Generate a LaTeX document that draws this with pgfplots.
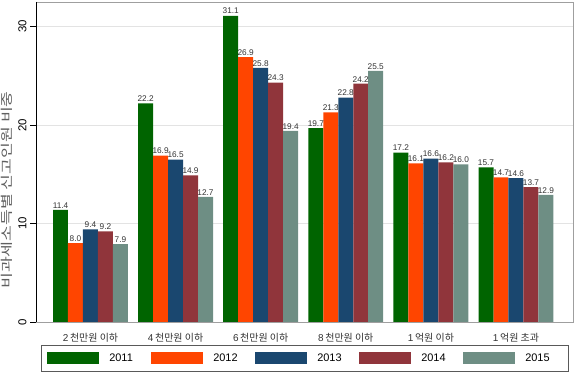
\documentclass[border=0pt]{standalone}
\usepackage{pgfplots}
\pgfplotsset{compat=1.18}
\usepackage{fontspec}
\setmainfont{Liberation Sans}
\newfontfamily\kr{Noto Sans CJK KR}

\definecolor{cA}{HTML}{006400}
\definecolor{cB}{HTML}{FF4500}
\definecolor{cC}{HTML}{1A476F}
\definecolor{cD}{HTML}{90353B}
\definecolor{cE}{HTML}{6E8E84}
\definecolor{txt}{HTML}{333333}

\begin{document}
\begin{tikzpicture}
\begin{axis}[
  at={(0,0)}, anchor=south west,
  scale only axis, width=537bp, height=320bp,
  xmin=-0.64, xmax=5.67, ymin=0, ymax=32.5,
  ybar, bar width=0.176,
  axis line style={draw=gray!75, line width=0.8pt},
  xtick={0,1,2,3,4,5},
  xticklabels={
    {2\,{\kr 천만원 이하}}, {4\,{\kr 천만원 이하}}, {6\,{\kr 천만원 이하}},
    {8\,{\kr 천만원 이하}}, {1\,{\kr 억원 이하}}, {1\,{\kr 억원 초과}}},
  xticklabel style={font=\fontsize{10}{11}\selectfont, text=txt, yshift=-2bp},
  x tick style={draw=none},
  ytick={0,10,20,30},
  yticklabel style={rotate=90, anchor=south, font=\fontsize{11.5}{12}\selectfont, text=black},
  /pgf/number format/assume math mode=true,
  y tick style={draw=black, line width=0.6pt},
  tick align=outside, major tick length=6bp,
  ymajorgrids, grid style={gray!22, line width=0.9pt},
  ylabel={\scalebox{1.38}[1]{\kr 비과세소득별 신고인원 비중}},
  ylabel style={font=\fontsize{12.5}{13}\selectfont, text=gray!75!black,
    at={(axis description cs:-0.054,0.4125)}, anchor=center},
  nodes near coords={\pgfmathprintnumber[fixed,fixed zerofill,precision=1]{\pgfplotspointmeta}},
  every node near coord/.append style={font=\fontsize{8.3}{9}\selectfont, text=txt, inner sep=1.5bp},
  legend columns=5,
  legend image code/.code={\fill[#1] (0bp,-6bp) rectangle (52bp,6bp); \path (62bp,0bp);},
  legend style={
    at={(0.0093,-0.0719)}, anchor=north west,
    draw=gray!70!black, line width=0.6pt,
    inner xsep=6bp, inner ysep=7bp,
    font=\fontsize{11}{12}\selectfont,
    column sep=0pt,
    nodes={inner sep=0pt, anchor=west},
  },
]
\addplot[fill=cA, draw=none, bar shift=-0.352] coordinates {(0,11.4) (1,22.2) (2,31.1) (3,19.7) (4,17.2) (5,15.7)};
\addplot[fill=cB, draw=none, bar shift=-0.176] coordinates {(0,8.0) (1,16.9) (2,26.9) (3,21.3) (4,16.1) (5,14.7)};
\addplot[fill=cC, draw=none, bar shift=0] coordinates {(0,9.4) (1,16.5) (2,25.8) (3,22.8) (4,16.6) (5,14.6)};
\addplot[fill=cD, draw=none, bar shift=0.176] coordinates {(0,9.2) (1,14.9) (2,24.3) (3,24.2) (4,16.2) (5,13.7)};
\addplot[fill=cE, draw=none, bar shift=0.352] coordinates {(0,7.9) (1,12.7) (2,19.4) (3,25.5) (4,16.0) (5,12.9)};
\legend{\makebox[42bp][l]{2011},\makebox[42bp][l]{2012},\makebox[42bp][l]{2013},\makebox[42bp][l]{2014},\makebox[37bp][l]{2015}}
\draw[black, line width=0.8pt] (rel axis cs:0,1) -- (rel axis cs:0,0) -- (rel axis cs:1,0);
\end{axis}
\pgfresetboundingbox
\path (-36bp,-52bp) rectangle (538bp,322bp);
\end{tikzpicture}
\end{document}
